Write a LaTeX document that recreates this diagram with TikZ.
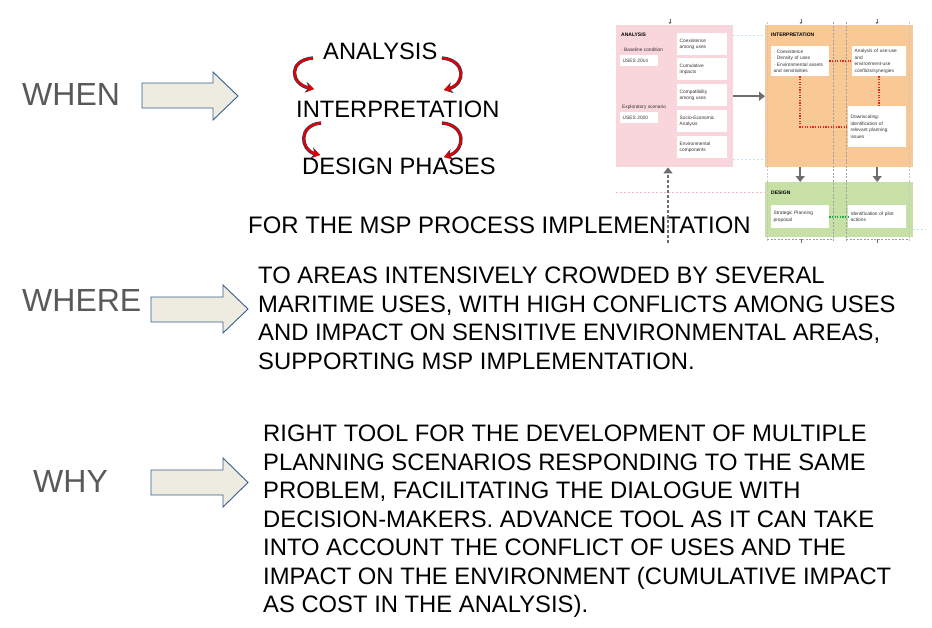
\documentclass[tikz,border=0pt]{standalone}
\usepackage{fontspec}
\setmainfont{Liberation Sans}
\usetikzlibrary{arrows.meta}
\definecolor{pinkbg}{HTML}{F9D5DC}
\definecolor{orangebg}{HTML}{F8C994}
\definecolor{greenbg}{HTML}{C6E0A5}
\definecolor{arrfill}{HTML}{EEECE1}
\definecolor{arrline}{HTML}{385D8A}
\definecolor{labgray}{HTML}{595959}
\definecolor{flowgray}{HTML}{6E6E6E}
\definecolor{dotred}{HTML}{E8242B}
\definecolor{dotgreen}{HTML}{1BA84A}
\definecolor{linecyan}{HTML}{BFE6EE}
\definecolor{linepink}{HTML}{F2B8C6}
\tikzset{
	bigarrow/.style={fill=arrfill, draw=arrline, line width=0.9pt, line join=miter},
	asklabel/.style={anchor=base west, inner sep=0, text=labgray, font=\fontsize{32}{36}\selectfont},
	phase/.style={anchor=base west, inner sep=0, font=\fontsize{23.7}{26}\selectfont},
	answer/.style={anchor=north west, inner sep=0, align=left, font=\fontsize{23.8}{28.5}\selectfont},
	redarc/.style={line width=2.2pt, draw=red!90!black, -{Stealth[length=7pt,width=9pt]},
		preaction={draw=arrline!70!black, line width=3.4pt, -{Stealth[length=8.5pt,width=11pt]}}},
	panel/.style={anchor=north west, inner sep=0},
	head/.style={anchor=west, inner sep=0, font=\fontsize{5}{6}\selectfont\bfseries},
	small/.style={anchor=west, inner sep=0, text=black!80, font=\fontsize{4.8}{6}\selectfont},
	wbox/.style n args={2}{fill=white, anchor=north west, inner sep=2.5pt, text width=#1, minimum height=#2,
		align=left, text=black!80, font=\fontsize{4.8}{6.4}\selectfont},
	flow/.style={draw=flowgray, line width=2pt, -{Triangle[length=6pt,width=9pt]}},
	vdash/.style={draw=gray!75, line width=0.5pt, dash pattern=on 2pt off 1.5pt},
	reddot/.style={draw=dotred, line width=1.6pt, dash pattern=on 1.2pt off 1.4pt},
	greendot/.style={draw=dotgreen, line width=1.6pt, dash pattern=on 1.2pt off 1.4pt},
}
\begin{document}
\begin{tikzpicture}[x=1pt,y=-1pt]
	\useasboundingbox (0,0) rectangle (932,627);
	%问题
	\draw (22,105) node[asklabel](when){WHEN} (22,311) node[asklabel](where){WHERE} (33,492) node[asklabel](why){WHY};
	\filldraw[bigarrow] (142,83) -- (213,83) -- (213,72) -- (238,96) -- (213,120) -- (213,108) -- (142,108) -- cycle;
	\filldraw[bigarrow] (151,297) -- (223,297) -- (223,285) -- (248,309) -- (223,333) -- (223,322) -- (151,322) -- cycle;
	\filldraw[bigarrow] (151,470) -- (223,470) -- (223,458) -- (248,482.5) -- (223,507) -- (223,495) -- (151,495) -- cycle;
	%阶段
	\draw (323,59) node[phase](ana-t){ANALYSIS} (296,117) node[phase](int-t){INTERPRETATION} (302,174) node[phase](des-t){DESIGN PHASES};
	\coordinate (l1s) at (313,58); \coordinate (l1e) at (314,89);
	\coordinate (r1s) at (442,58); \coordinate (r1e) at (444,90);
	\coordinate (l2s) at (321,123); \coordinate (l2e) at (320,155);
	\coordinate (r2s) at (442,123); \coordinate (r2e) at (444,157);
	\draw[redarc] (l1s) .. controls (288,60) and (290,84) .. (l1e);
	\draw[redarc] (r1s) .. controls (466,60) and (466,84) .. (r1e);
	\draw[redarc] (l2s) .. controls (298,125) and (300,150) .. (l2e);
	\draw[redarc] (r2s) .. controls (466,125) and (466,150) .. (r2e);
	\draw (248,233) node[anchor=base west, inner sep=0, font=\fontsize{23.9}{26}\selectfont](msp){FOR THE MSP PROCESS IMPLEMENTATION};
	%回答
	\draw (258,267) node[answer](where-a){TO AREAS INTENSIVELY CROWDED BY SEVERAL\\MARITIME USES, WITH HIGH CONFLICTS AMONG USES\\AND IMPACT ON SENSITIVE ENVIRONMENTAL AREAS,\\SUPPORTING MSP IMPLEMENTATION.};
	\draw (263,425) node[answer](why-a){RIGHT TOOL FOR THE DEVELOPMENT OF MULTIPLE\\PLANNING SCENARIOS RESPONDING TO THE SAME\\PROBLEM, FACILITATING THE DIALOGUE WITH\\DECISION-MAKERS. ADVANCE TOOL AS IT CAN TAKE\\INTO ACCOUNT THE CONFLICT OF USES AND THE\\IMPACT ON THE ENVIRONMENT (CUMULATIVE IMPACT\\AS COST IN THE ANALYSIS).};
	%流程图
	\draw[linepink, line width=0.5pt, dash pattern=on 2pt off 2pt] (616,192) -- (765,192);
	\draw[linecyan, line width=0.6pt, dash pattern=on 2pt off 2pt] (733,35) -- (765,35) (733,159) -- (765,159) (913,229) -- (926,229);
	\draw (616,25) node[panel, fill=pinkbg, minimum width=117pt, minimum height=142pt](ana){};
	\draw (765,25) node[panel, fill=orangebg, minimum width=148pt, minimum height=142pt](intp){};
	\draw (765,182) node[panel, fill=greenbg, minimum width=148pt, minimum height=55pt](des){};
	\draw[vdash] (833,22) -- (833,241) (846,22) -- (846,241);
	\draw[vdash, gray!45] (767,22) -- (767,241) (909,22) -- (909,241);
	\draw[vdash] (767,239) -- (833,239) (846,239) -- (909,239);
	\foreach \tx in {670,801,877}
		\draw[flowgray, line width=0.5pt, -{Triangle[length=2pt,width=3pt]}] (\tx,19) -- (\tx,24);
	\draw[flowgray, line width=0.5pt] (801,239) -- (801,243) (877,239) -- (877,243);
	\draw (621,35) node[head](ana-h){ANALYSIS} (771,35) node[head](intp-h){INTERPRETATION} (771,193) node[head](des-h){DESIGN};
	\draw (621,50) node[small](bc){· Baseline condition} (622,107) node[small](es){Exploratory scenario};
	\draw (620,55) node[wbox={33pt}{11pt}](u14){USES 2014} (620,112) node[wbox={33pt}{11pt}](u20){USES 2020};
	\draw (677,33) node[wbox={45pt}{22pt}](c1){Coexistence\\among uses}
		(677,58) node[wbox={45pt}{22pt}](c2){Cumulative\\impacts}
		(677,84) node[wbox={45pt}{22pt}](c3){Compatibility\\among uses}
		(677,110) node[wbox={45pt}{22pt}](c4){Socio-Economic\\Analysis}
		(677,136) node[wbox={45pt}{22pt}](c5){Environmental\\components};
	\draw (771,46) node[wbox={53pt}{30pt}](ba){· Coexistence\\· Density of uses\\· Environmental assets\\and sensitivities}
		(852,46) node[wbox={49pt}{30pt}](bb){Analysis of use-use\\and\\environment-use\\conflicts/synergies}
		(848,106) node[wbox={53pt}{41pt}](bc2){Downscaling:\\identification of\\relevant planning\\issues};
	\draw (771,205) node[wbox={53pt}{23pt}](bd){Strategic Planning\\proposal}
		(848,205) node[wbox={53pt}{23pt}](be){Identification of pilot\\actions};
	%连线
	\draw[flow] (ana) -- (intp);
	\draw[flow] (intp.south -| ba) -- (des.north -| ba);
	\draw[flow] (intp.south -| bc2) -- (des.north -| bc2);
	\draw[reddot] (ba) -- (bb) (ba.south) |- (bc2.west) (bb.south) -- (bb.south |- bc2.north);
	\draw[greendot] (bd) -- (be);
	\coordinate (fb) at (668,243);
	\draw[flowgray, line width=1.5pt, dash pattern=on 3pt off 2pt, -{Triangle[length=6pt,width=9pt]}] (fb) -- (fb |- ana.south);
\end{tikzpicture}
\end{document}
